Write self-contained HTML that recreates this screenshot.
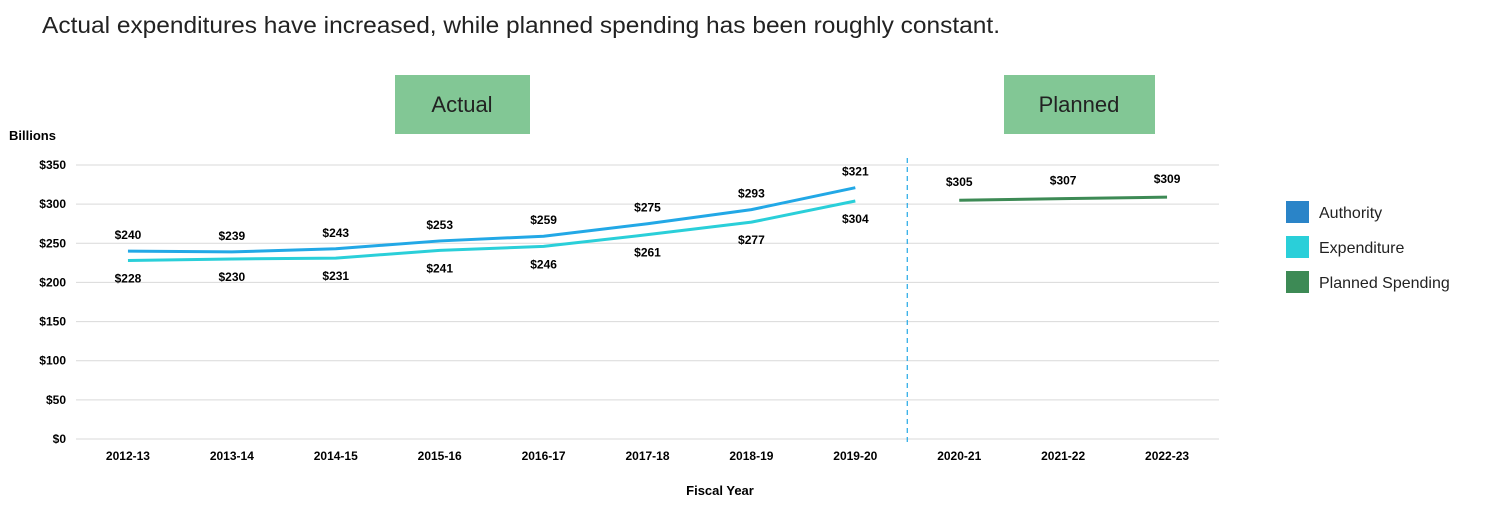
<!DOCTYPE html>
<html><head><meta charset="utf-8"><style>
body{margin:0;background:#fff;width:1487px;height:509px;overflow:hidden;font-family:"Liberation Sans",sans-serif}
</style></head><body>
<svg width="1487" height="509" xmlns="http://www.w3.org/2000/svg">
<text x="42" y="33" font-size="23" fill="#222" textLength="958" lengthAdjust="spacingAndGlyphs">Actual expenditures have increased, while planned spending has been roughly constant.</text>
<rect x="395" y="75" width="135" height="59" fill="#82c795"/>
<text x="462" y="112" font-size="22" text-anchor="middle" fill="#222">Actual</text>
<rect x="1004" y="75" width="151" height="59" fill="#82c795"/>
<text x="1079" y="112" font-size="22" text-anchor="middle" fill="#222">Planned</text>
<text x="9" y="140" font-size="13" font-weight="bold">Billions</text>
<text x="720" y="495" font-size="13" font-weight="bold" text-anchor="middle">Fiscal Year</text>
<g id="grid"></g><g id="marks"></g>
<g>
<rect x="1286" y="201" width="23" height="22" fill="#2a84c8"/>
<text x="1319" y="218" font-size="16" fill="#222">Authority</text>
<rect x="1286" y="236" width="23" height="22" fill="#2acfd9"/>
<text x="1319" y="253" font-size="16" fill="#222">Expenditure</text>
<rect x="1286" y="271" width="23" height="22" fill="#3d8a55"/>
<text x="1319" y="288" font-size="16" fill="#222">Planned Spending</text>
</g>
</svg>
<script>
const categories=["2012-13","2013-14","2014-15","2015-16","2016-17","2017-18","2018-19","2019-20","2020-21","2021-22","2022-23"];
const authority=[240,239,243,253,259,275,293,321];
const expenditure=[228,230,231,241,246,261,277,304];
const planned=[305,307,309];
const yTicks=[0,50,100,150,200,250,300,350];
const NS="http://www.w3.org/2000/svg";
const L=76,R=1219,T=165,B=439,ymax=350;
const bw=(R-L)/categories.length;
const x=i=>L+bw*(i+0.5);
const y=v=>B-(v/ymax)*(B-T);
function mk(tag,attrs,parent,text){const e=document.createElementNS(NS,tag);for(const k in attrs)e.setAttribute(k,attrs[k]);if(text!==undefined)e.textContent=text;parent.appendChild(e);return e;}
const grid=document.getElementById('grid'),marks=document.getElementById('marks');
yTicks.forEach(t=>{
 const g=mk('line',{x1:L,x2:R,y1:y(t),y2:y(t),stroke:'#d9d9d9','stroke-width':1},grid);
 
 
 const tl=mk('text',{x:66,y:y(t)+4,'font-size':12,'font-weight':'bold','text-anchor':'end'},grid,'$'+t);
 
 
});
categories.forEach((c,i)=>{
 const tl=mk('text',{x:x(i),y:460,'font-size':12,'font-weight':'bold','text-anchor':'middle'},grid,c);
 
 
});
const dv=mk('line',{x1:L+bw*8,x2:L+bw*8,y1:158,y2:445,stroke:'#22a8e6','stroke-width':1.2,'stroke-dasharray':'5,4'},grid);


function series(vals,off,color,name,dy){
 const pts=vals.map((v,i)=>x(i+off)+','+y(v)).join(' ');
 const p=mk('polyline',{points:pts,fill:'none',stroke:color,'stroke-width':3,'stroke-linejoin':'round'},marks);
 
 
 vals.forEach((v,i)=>{
  const t=mk('text',{x:x(i+off),y:y(v)+dy,'font-size':12,'font-weight':'bold','text-anchor':'middle'},marks,'$'+v);
  
  
 });
}
series(authority,0,'#22a8e6','authority',-12);
series(expenditure,0,'#2acfd9','expenditure',22);
series(planned,8,'#3d8a55','planned',-14);
</script>
</body></html>
